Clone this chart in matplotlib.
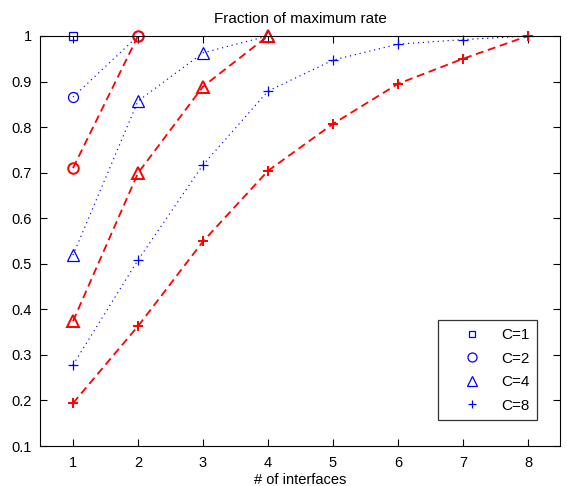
import matplotlib
matplotlib.use("Agg")
import matplotlib.pyplot as plt
from matplotlib.lines import Line2D

plt.rcParams['font.family'] = ['Liberation Sans', 'DejaVu Sans']

# Blue dotted series (C -> values at x = 1..)
blue_c1 = [1.0]
blue_c2 = [0.866, 1.0]
blue_c4 = [0.519, 0.857, 0.963, 1.0]
blue_c8 = [0.278, 0.508, 0.717, 0.879, 0.947, 0.982, 0.992, 1.0]

# Red dashed series
red_c2 = [0.710, 1.0]
red_c4 = [0.374, 0.699, 0.889, 1.0]
red_c8 = [0.194, 0.363, 0.549, 0.704, 0.807, 0.895, 0.950, 1.0]

legend_labels = ['C=1', 'C=2', 'C=4', 'C=8']
xticks = [1, 2, 3, 4, 5, 6, 7, 8]
yticks = [0.1, 0.2, 0.3, 0.4, 0.5, 0.6, 0.7, 0.8, 0.9, 1.0]

blue = '#0000ff'
red = '#ff0000'

fig = plt.figure(figsize=(5.67, 4.86), dpi=100)
ax = fig.add_axes([0.0714, 0.0823, 0.9171, 0.8437])

markers = ['s', 'o', '^', '+']
msizes = [5.8, 7.2, 8.0, 6.8]
blue_series = [blue_c1, blue_c2, blue_c4, blue_c8]
for vals, m, ms in zip(blue_series, markers, msizes):
    xs = list(range(1, len(vals) + 1))
    ax.plot(xs, vals, linestyle=(0, (1, 3.2)), color=blue, linewidth=0.85,
            marker=m, markersize=ms, markerfacecolor='none',
            markeredgecolor=blue, markeredgewidth=0.9, clip_on=False)

red_series = [red_c2, red_c4, red_c8]
for vals, m, ms in zip(red_series, markers[1:], msizes[1:]):
    xs = list(range(1, len(vals) + 1))
    ax.plot(xs, vals, linestyle=(0, (4.4, 2.6)), color=red, linewidth=1.3,
            marker=m, markersize=ms + 0.4, markerfacecolor='none',
            markeredgecolor=red, markeredgewidth=1.4, clip_on=False)

ax.set_xlim(0.5, 8.5)
ax.set_ylim(0.1, 1.0)
ax.set_xticks(xticks)
ax.set_xticklabels([str(t) for t in xticks])
ax.set_yticks(yticks)
ax.set_yticklabels(['0.1', '0.2', '0.3', '0.4', '0.5', '0.6', '0.7', '0.8', '0.9', '1'])
ax.tick_params(direction='in', top=True, right=True, labelsize=10.5, length=5, width=0.8)
ax.tick_params(axis='x', pad=7)
ax.tick_params(axis='y', pad=6)
for s in ax.spines.values():
    s.set_linewidth(0.8)

ax.set_title('Fraction of maximum rate', fontsize=11, pad=9)
ax.set_xlabel('# of interfaces', fontsize=10.5, labelpad=2)

leg_ms = [5.0, 6.5, 7.5, 6.0]
handles = [Line2D([], [], linestyle='none', marker=m, markersize=ms, color=blue,
                  markerfacecolor='none', markeredgewidth=0.9)
           for m, ms in zip(markers, leg_ms)]
leg = ax.legend(handles, legend_labels, loc='lower right', bbox_to_anchor=(0.955, 0.063),
                borderaxespad=0, fontsize=11, frameon=True, fancybox=False, edgecolor='black',
                handlelength=3.45, handletextpad=0.17, labelspacing=0.62, borderpad=0.5)
leg.get_frame().set_linewidth(0.9)

fig.savefig('out.png', dpi=100, facecolor='white')
